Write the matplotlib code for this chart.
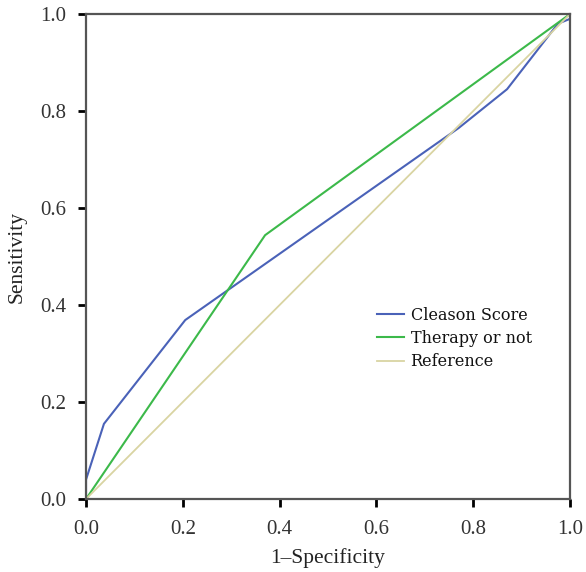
import matplotlib
matplotlib.use("Agg")
import matplotlib.pyplot as plt

# ROC points
cleason_x = [0.0, 0.0, 0.037, 0.205, 0.77, 0.87, 0.975, 1.0, 1.0]
cleason_y = [0.0, 0.04, 0.155, 0.369, 0.765, 0.845, 0.98, 0.99, 1.0]
therapy_x = [0.0, 0.37, 1.0]
therapy_y = [0.0, 0.544, 1.0]
ref_x = [0.0, 1.0]
ref_y = [0.0, 1.0]
ticks = [0.0, 0.2, 0.4, 0.6, 0.8, 1.0]

plt.rcParams['font.family'] = ['Liberation Serif', 'DejaVu Serif']

fig = plt.figure(figsize=(5.86, 5.72), dpi=100)
ax = fig.add_axes([0.1468, 0.1276, 0.8259, 0.8479])

ax.plot(cleason_x, cleason_y, color='#4a62b8', lw=1.5, label='Cleason Score')
ax.plot(therapy_x, therapy_y, color='#3cb94a', lw=1.5, label='Therapy or not')
ax.plot(ref_x, ref_y, color='#d9d4a2', lw=1.3, label='Reference')

ax.set_xlim(0, 1)
ax.set_ylim(0, 1)
ax.set_xticks(ticks)
ax.set_yticks(ticks)
ax.set_xticklabels([f"{t:.1f}" for t in ticks])
ax.set_yticklabels([f"{t:.1f}" for t in ticks])
ax.tick_params(direction='out', length=6, width=2, color='black',
               labelsize=15, labelcolor='#333333')
ax.tick_params(axis='x', pad=9)
ax.tick_params(axis='y', pad=8)
for s in ax.spines.values():
    s.set_color('#555555')
    s.set_linewidth(1.6)

ax.set_xlabel('1\u2013Specificity', fontsize=15.5, color='#222222', labelpad=7)
ax.set_ylabel('Sensitivity', fontsize=15.5, color='#222222', labelpad=10)

leg = ax.legend(loc='upper left', bbox_to_anchor=(0.588, 0.41), frameon=False,
                prop={'family': 'DejaVu Serif', 'size': 11.5},
                handlelength=1.7, handletextpad=0.4,
                labelspacing=0.4, borderaxespad=0)
for t in leg.get_texts():
    t.set_color('#111111')

fig.savefig('out.png', dpi=100)
